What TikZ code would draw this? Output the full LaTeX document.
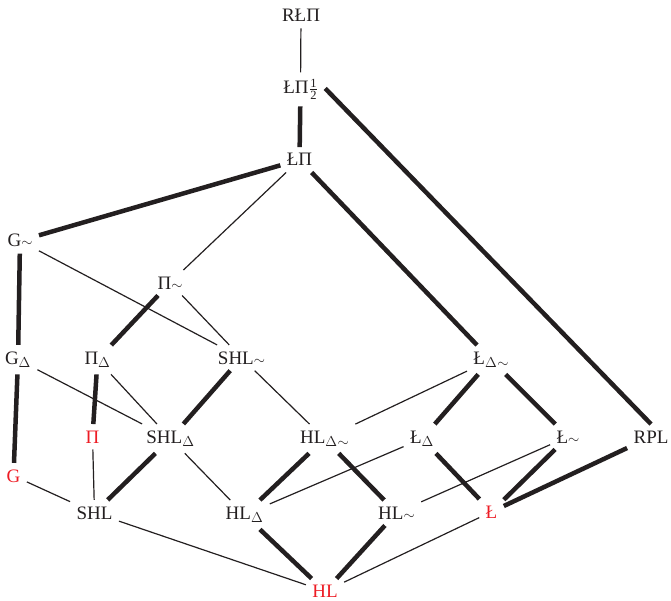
\documentclass[tikz,border=0pt]{standalone}
\usepackage{amsmath}
\usepackage{fontspec}
\setmainfont{Liberation Serif}
\definecolor{lred}{RGB}{237,28,36}
\definecolor{ink}{RGB}{35,31,32}
\newcommand\sbD{$_{\Delta}$}
\newcommand\sbDt{$_{\Delta}$\raisebox{-3pt}{\fontsize{15.5}{15.5}\selectfont$\sim$}}
\newcommand\tld{{\fontsize{15.5}{15.5}\selectfont$\sim$}}
\newcommand\hlf{\kern0.5pt$\genfrac{}{}{0.5pt}{1}{\mbox{\fontsize{12.5}{12.5}\selectfont 1}}{\mbox{\fontsize{12.5}{12.5}\selectfont 2}}$}
\tikzset{
  lbl/.style={font=\fontsize{19}{21}\selectfont, text=ink, inner sep=3pt, outer sep=3.5pt, anchor=base},
  rd/.style={lbl, text=lred},
  tk/.style={line width=4.5pt, draw=ink},
  tn/.style={line width=1.2pt, draw=ink}
}
\begin{document}
\begin{tikzpicture}[x=1pt,y=-1pt]
\useasboundingbox (0,0) rectangle (671,601);
\node[lbl] (RLP) at (301,22) {RŁΠ};
\node[lbl] (LPh) at (300.5,94) {ŁΠ\hlf};
\node[lbl] (LP) at (299.5,166) {ŁΠ};
\node[lbl] (Gt) at (20,247) {G\tld};
\node[lbl] (Pt) at (170,289) {Π\tld};
\node[lbl] (GD) at (18,364) {G\sbD};
\node[lbl] (PD) at (97.5,364) {Π\sbD};
\node[lbl] (SHLt) at (241.5,364) {SHL\tld};
\node[lbl] (LDt) at (491,364) {Ł\sbDt};
\node[rd] (P) at (92.5,443) {Π};
\node[lbl] (SHLD) at (170.5,443) {SHL\sbD};
\node[lbl] (HLDt) at (324.5,443) {HL\sbDt};
\node[lbl] (LD) at (422,443) {Ł\sbD};
\node[lbl] (Lt) at (568,443) {Ł\tld};
\node[lbl] (RPL) at (651,443) {RPL};
\node[rd] (G) at (13.5,482) {G};
\node[lbl] (SHL) at (94.5,519) {SHL};
\node[lbl] (HLD) at (244.5,519) {HL\sbD};
\node[lbl] (HLt) at (396.5,519) {HL\tld};
\node[rd] (L) at (491.5,518) {Ł};
\node[rd] (HL) at (325,597.5) {HL};

\draw[tn] (RLP) -- (LPh);
\draw[tk] (LPh) -- (LP);
\draw[tk] ([xshift=1pt,yshift=1pt]LPh.east) -- (RPL.north);
\draw[tk] (LP) -- (Gt);
\draw[tn] (LP) -- (Pt);
\draw[tk] (LP) -- (LDt);
\draw[tk] (Gt) -- (GD);
\draw[tn] (Gt) -- (SHLt);
\draw[tk] (Pt) -- (PD);
\draw[tn] (Pt) -- (SHLt);
\draw[tk] (GD) -- (G);
\draw[tn] (GD) -- (SHLD);
\draw[tk] (PD) -- (P);
\draw[tn] (PD) -- (SHLD);
\draw[tk] (SHLt) -- (SHLD);
\draw[tn] (SHLt) -- (HLDt);
\draw[tn] (LDt) -- (HLDt);
\draw[tk] (LDt) -- (LD);
\draw[tk] (LDt) -- (Lt);
\draw[tn] (P) -- (SHL);
\draw[tn] (G) -- (SHL);
\draw[tk] (SHLD) -- (SHL);
\draw[tn] (SHLD) -- (HLD);
\draw[tk] (HLDt) -- (HLD);
\draw[tk] (HLDt) -- (HLt);
\draw[tn] (LD) -- (HLD);
\draw[tk] (LD) -- (L);
\draw[tn] (Lt) -- (HLt);
\draw[tk] (Lt) -- (L);
\draw[tk] (RPL) -- (L);
\draw[tn] (SHL) -- (HL);
\draw[tk] (HLD) -- (HL);
\draw[tk] (HLt) -- (HL);
\draw[tn] (L) -- (HL);
\end{tikzpicture}
\end{document}
